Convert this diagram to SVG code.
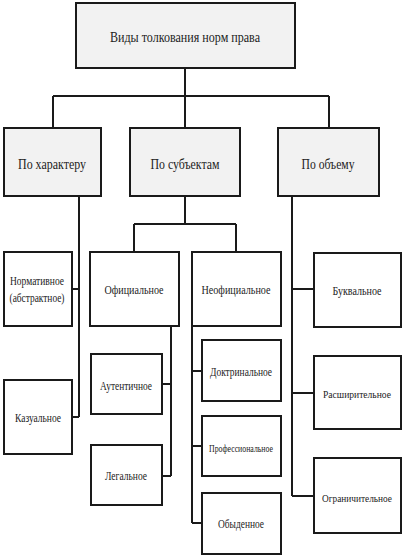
<svg xmlns="http://www.w3.org/2000/svg" width="402" height="555" viewBox="0 0 402 555">
<style>
.b{fill:#fff;stroke:#1a1a1a;stroke-width:2}
.g{fill:#f2f2f2}
.t{font-family:"Liberation Serif","Times New Roman",serif;fill:#222;text-anchor:middle;dominant-baseline:central}
.c{fill:none;stroke:#1a1a1a;stroke-width:2}
</style>
<rect width="402" height="555" fill="#fff"/>
<g id="connectors">
<path class="c" d="M185 68V96M53 96H329M53 96V128M185 96V128M329 96V128"/>
<path class="c" d="M79 196V417M72 289H79M72 417H79"/>
<path class="c" d="M185 196V224M134 224H236M134 224V252M236 224V252"/>
<path class="c" d="M171 326V476M162 384H171M162 476H171"/>
<path class="c" d="M192 326V523M192 371H202M192 446H202M192 523H202"/>
<path class="c" d="M292 196V496M292 289H314M292 393H314M292 496H314"/>
</g>
<g id="root"><rect class="b g" x="76" y="3" width="219" height="65"/><text class="t" x="185" y="37" font-size="15" textLength="150" lengthAdjust="spacingAndGlyphs">Виды толкования норм права</text></g>
<g id="char"><rect class="b g" x="4" y="128" width="97" height="68"/><text class="t" x="52" y="164" font-size="14" textLength="68" lengthAdjust="spacingAndGlyphs">По характеру</text></g>
<g id="subj"><rect class="b g" x="130" y="128" width="110" height="68"/><text class="t" x="185" y="164" font-size="14" textLength="69" lengthAdjust="spacingAndGlyphs">По субъектам</text></g>
<g id="vol"><rect class="b g" x="278" y="128" width="101" height="68"/><text class="t" x="328" y="164" font-size="14" textLength="53" lengthAdjust="spacingAndGlyphs">По объему</text></g>
<g id="norm"><rect class="b" x="4" y="252" width="68" height="74"/><text class="t" x="37" y="281" font-size="12" textLength="54" lengthAdjust="spacingAndGlyphs">Нормативное</text><text class="t" x="37" y="298" font-size="12" textLength="55" lengthAdjust="spacingAndGlyphs">(абстрактное)</text></g>
<g id="kaz"><rect class="b" x="4" y="380" width="68" height="74"/><text class="t" x="38" y="418" font-size="12" textLength="46" lengthAdjust="spacingAndGlyphs">Казуальное</text></g>
<g id="off"><rect class="b" x="90" y="252" width="89" height="74"/><text class="t" x="134" y="289" font-size="13" textLength="59" lengthAdjust="spacingAndGlyphs">Официальное</text></g>
<g id="neoff"><rect class="b" x="192" y="252" width="89" height="74"/><text class="t" x="236" y="289" font-size="13" textLength="69" lengthAdjust="spacingAndGlyphs">Неофициальное</text></g>
<g id="aut"><rect class="b" x="91" y="354" width="71" height="60"/><text class="t" x="126" y="386" font-size="12" textLength="52" lengthAdjust="spacingAndGlyphs">Аутентичное</text></g>
<g id="leg"><rect class="b" x="91" y="445" width="71" height="60"/><text class="t" x="126" y="476" font-size="12" textLength="42" lengthAdjust="spacingAndGlyphs">Легальное</text></g>
<g id="doct"><rect class="b" x="202" y="340" width="79" height="61"/><text class="t" x="241" y="372" font-size="12" textLength="62" lengthAdjust="spacingAndGlyphs">Доктринальное</text></g>
<g id="prof"><rect class="b" x="202" y="416" width="79" height="60"/><text class="t" x="241" y="448" font-size="10" textLength="64" lengthAdjust="spacingAndGlyphs">Профессиональное</text></g>
<g id="obyd"><rect class="b" x="202" y="493" width="79" height="61"/><text class="t" x="241" y="524" font-size="12" textLength="46" lengthAdjust="spacingAndGlyphs">Обыденное</text></g>
<g id="bukv"><rect class="b" x="314" y="253" width="87" height="74"/><text class="t" x="357" y="291" font-size="12" textLength="49" lengthAdjust="spacingAndGlyphs">Буквальное</text></g>
<g id="rassh"><rect class="b" x="314" y="356" width="87" height="73"/><text class="t" x="357" y="394" font-size="11" textLength="68" lengthAdjust="spacingAndGlyphs">Расширительное</text></g>
<g id="ogr"><rect class="b" x="314" y="458" width="87" height="75"/><text class="t" x="357" y="498" font-size="10" textLength="70" lengthAdjust="spacingAndGlyphs">Ограничительное</text></g>
</svg>
